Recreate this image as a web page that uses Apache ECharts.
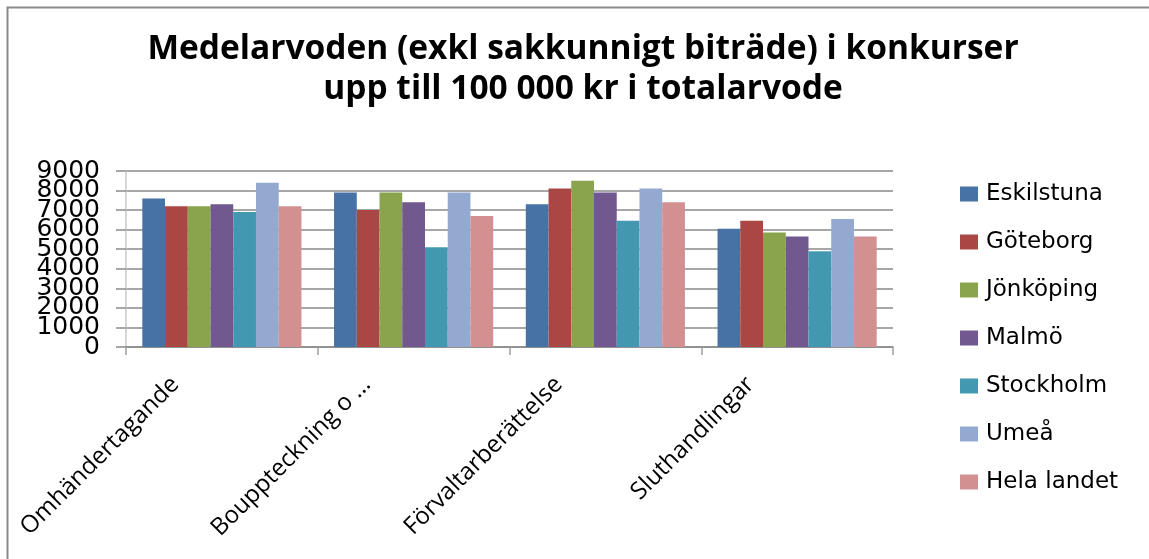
<!DOCTYPE html>
<html>
<head>
<meta charset="utf-8">
<script src="https://cdn.jsdelivr.net/npm/echarts@6/dist/echarts.min.js"></script>
<style>html,body{margin:0;padding:0;background:#fff;}#c{width:1149px;height:559px;}</style>
</head>
<body>
<div id="c"></div>
<script>
var categories = ['Omhändertagande', 'Bouppteckning o …', 'Förvaltarberättelse', 'Sluthandlingar'];
var seriesNames = ['Eskilstuna', 'Göteborg', 'Jönköping', 'Malmö', 'Stockholm', 'Umeå', 'Hela landet'];
var eskilstuna = [7600, 7900, 7300, 6050];
var goteborg = [7200, 7000, 8100, 6450];
var jonkoping = [7200, 7900, 8500, 5850];
var malmo = [7300, 7400, 7900, 5650];
var stockholm = [6900, 5100, 6450, 4900];
var umea = [8400, 7900, 8100, 6550];
var helaLandet = [7200, 6700, 7400, 5650];
var yTicks = [0, 1000, 2000, 3000, 4000, 5000, 6000, 7000, 8000, 9000];

var seriesData = [eskilstuna, goteborg, jonkoping, malmo, stockholm, umea, helaLandet];
var colors = ['#4672a6', '#a84744', '#89a44c', '#71588f', '#4298b0', '#94a9cf', '#d29190'];

var yLabelStyle = {
  margin: 26,
  showMinLabel: true,
  showMaxLabel: true,
  fontFamily: 'DejaVu Sans',
  fontSize: 25,
  color: '#000'
};

function yAxisFor(parity, main) {
  return {
    type: 'value',
    position: 'left',
    min: 0,
    max: 9000,
    interval: 1000,
    axisLine: {show: main, lineStyle: {color: '#c8c8c8', width: 1.5}},
    axisTick: {show: main, length: 10, lineStyle: {color: '#8a8a8a', width: 1.5}},
    splitLine: {show: main, lineStyle: {color: '#8a8a8a', width: 1.5}},
    axisLabel: Object.assign({}, yLabelStyle, {
      formatter: function (v) {
        var i = yTicks.indexOf(v);
        return (i >= 0 && i % 2 === parity) ? String(v) : '';
      }
    })
  };
}

var chart = echarts.init(document.getElementById('c'), null, {renderer: 'canvas'});
chart.setOption({
  animation: false,
  backgroundColor: '#ffffff',
  color: colors,
  title: {
    text: 'Medelarvoden (exkl sakkunnigt biträde) i konkurser\nupp till 100 000 kr i totalarvode',
    left: 578,
    textAlign: 'center',
    top: 24,
    textStyle: {
      fontFamily: 'Open Sans',
      fontWeight: 'bold',
      fontSize: 33.5,
      lineHeight: 40,
      color: '#000'
    }
  },
  graphic: [{
    type: 'rect',
    shape: {x: 7.5, y: 7.5, width: 1200, height: 600},
    style: {fill: 'none', stroke: '#8a8a8a', lineWidth: 2},
    silent: true
  }],
  legend: {
    orient: 'vertical',
    left: 955,
    top: 177,
    itemWidth: 18,
    itemHeight: 15,
    itemGap: 24,
    icon: 'rect',
    data: seriesNames,
    textStyle: {
      fontFamily: 'DejaVu Sans',
      fontSize: 23,
      lineHeight: 24,
      color: '#000',
      padding: [0, 0, 0, 3]
    }
  },
  grid: {left: 126, right: 256, top: 171, bottom: 212, containLabel: false},
  xAxis: {
    type: 'category',
    data: categories,
    axisLine: {show: true, lineStyle: {color: '#8a8a8a', width: 1.5}},
    axisTick: {show: true, alignWithLabel: false, length: 8, lineStyle: {color: '#a0a0a0', width: 1.5}},
    axisLabel: {
      rotate: 45,
      interval: 0,
      margin: -13,
      padding: [0, 66, 0, 0],
      fontFamily: 'Open Sans',
      fontSize: 24,
      color: '#000'
    }
  },
  yAxis: [yAxisFor(0, true), yAxisFor(1, false)],
  series: seriesNames.map(function (name, i) {
    return {
      name: name,
      type: 'bar',
      yAxisIndex: 0,
      data: seriesData[i],
      barGap: '0%',
      barCategoryGap: '17%',
      itemStyle: {color: colors[i]}
    };
  })
});
</script>
</body>
</html>
